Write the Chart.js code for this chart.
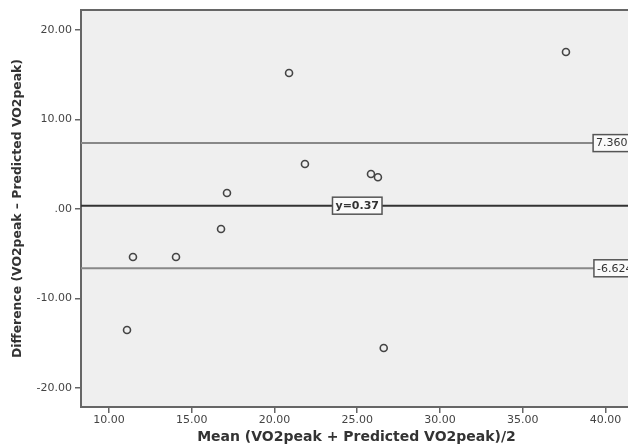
<!DOCTYPE html>
<html>
<head>
<meta charset="utf-8">
<script src="https://cdn.jsdelivr.net/npm/chart.js@4"></script>
<style>
  html, body { margin: 0; padding: 0; background: #fff; overflow: hidden; }
  #wrap { width: 628px; height: 447px; overflow: hidden; }
  canvas { display: block; }
</style>
</head>
<body>
<div id="wrap"><canvas id="baChart" width="640" height="447"></canvas></div>
<script>
// Bland-Altman data
const meanX = [11.45, 14.05, 16.77, 17.13, 20.88, 21.84, 25.83, 26.25, 37.61, 11.09, 26.6];
const diffY = [-5.36, -5.36, -2.23, 1.79, 15.20, 5.03, 3.91, 3.55, 17.54, -13.52, -15.53];

const xTicks = [10, 15, 20, 25, 30, 35, 40];
const yTicks = [-20, -10, 0, 10, 20];

const refValues = [7.3603, 0.37, -6.6243];
const refLabels = ['7.3603', 'y=0.37', '-6.6243'];

const X_MIN = 8.31, X_MAX = 41.6;
const Y_MIN = -22.12, Y_MAX = 22.23;

const FRAME = '#666';
const TEXT = '#444';

// grey plot area + top/right frame, then the boxed labels on the reference lines
const plotFrame = {
  id: 'plotFrame',
  beforeDraw(chart) {
    const { ctx, chartArea: a } = chart;
    ctx.save();
    ctx.fillStyle = '#efefef';
    ctx.fillRect(a.left, a.top, a.right - a.left, a.bottom - a.top);
    ctx.restore();
  },
  afterDraw(chart) {
    const { ctx, chartArea: a, scales } = chart;
    ctx.save();
    ctx.strokeStyle = FRAME;
    ctx.lineWidth = 2;
    ctx.beginPath();
    ctx.moveTo(a.left, a.top);
    ctx.lineTo(a.right, a.top);
    ctx.lineTo(a.right, a.bottom);
    ctx.stroke();

    // label anchors: middle one centred, the limits start near the right edge
    const anchors = [{ x: 39.25, align: 'left' }, { x: 25.0, align: 'center' }, { x: 39.3, align: 'left' }];
    refValues.forEach((v, i) => {
      const bold = i === 1;
      ctx.font = (bold ? 'bold ' : '') + '11px "DejaVu Sans"';
      const tw = ctx.measureText(refLabels[i]).width;
      const w = tw + 6, h = 17;
      let x = scales.x.getPixelForValue(anchors[i].x);
      if (anchors[i].align === 'center') x -= w / 2;
      const y = scales.y.getPixelForValue(v) - h / 2;
      ctx.fillStyle = '#fafafa';
      ctx.fillRect(x, y, w, h);
      ctx.strokeStyle = '#555';
      ctx.lineWidth = 1.5;
      ctx.strokeRect(x, y, w, h);
      ctx.fillStyle = '#333';
      ctx.textBaseline = 'middle';
      ctx.textAlign = 'left';
      ctx.fillText(refLabels[i], x + 3, y + h / 2 + 0.5);
    });
    ctx.restore();
  }
};

const refLine = (v, color) => ({
  type: 'line',
  data: [{ x: X_MIN, y: v }, { x: X_MAX, y: v }],
  borderColor: color,
  borderWidth: 2,
  pointRadius: 0,
  fill: false,
});

new Chart(document.getElementById('baChart'), {
  type: 'scatter',
  data: {
    datasets: [
      {
        data: meanX.map((x, i) => ({ x, y: diffY[i] })),
        pointRadius: 3.5,
        pointBorderWidth: 1.6,
        pointBorderColor: '#444',
        pointBackgroundColor: 'rgba(0,0,0,0)',
      },
      refLine(refValues[0], '#888'),
      refLine(refValues[1], '#333'),
      refLine(refValues[2], '#888'),
    ],
  },
  options: {
    responsive: false,
    animation: false,
    devicePixelRatio: 1,
    layout: { padding: { top: 10, right: 8, left: 0, bottom: 0 } },
    plugins: { legend: { display: false }, tooltip: { enabled: false } },
    scales: {
      x: {
        type: 'linear',
        min: X_MIN,
        max: X_MAX,
        afterBuildTicks: (axis) => { axis.ticks = xTicks.map((value) => ({ value })); },
        afterFit: (axis) => { axis.height = 40; },
        grid: { drawOnChartArea: false, drawTicks: true, tickLength: 6, color: FRAME, lineWidth: 1.5 },
        border: { display: true, color: FRAME, width: 2 },
        ticks: {
          color: TEXT,
          padding: 1,
          maxRotation: 0,
          font: { family: 'DejaVu Sans', size: 11 },
          callback: (v) => v.toFixed(2),
        },
        title: {
          display: true,
          text: 'Mean (VO2peak + Predicted VO2peak)/2',
          color: '#333',
          font: { family: 'DejaVu Sans', size: 14, weight: 'bold' },
          padding: { top: 0, bottom: 1 },
        },
      },
      y: {
        type: 'linear',
        min: Y_MIN,
        max: Y_MAX,
        afterBuildTicks: (axis) => { axis.ticks = yTicks.map((value) => ({ value })); },
        afterFit: (axis) => { axis.width = 81; },
        grid: { drawOnChartArea: false, drawTicks: true, tickLength: 6, color: FRAME, lineWidth: 1.5 },
        border: { display: true, color: FRAME, width: 2 },
        ticks: {
          color: TEXT,
          padding: 3,
          font: { family: 'DejaVu Sans', size: 11 },
          callback: (v) => (v === 0 ? '.00' : v.toFixed(2)),
        },
        title: {
          display: true,
          text: 'Difference (VO2peak \u2013 Predicted VO2peak)',
          color: '#333',
          font: { family: 'DejaVu Sans', size: 12.4, weight: 'bold' },
          padding: { top: 10, bottom: 0 },
        },
      },
    },
  },
  plugins: [plotFrame],
});
</script>
</body>
</html>
